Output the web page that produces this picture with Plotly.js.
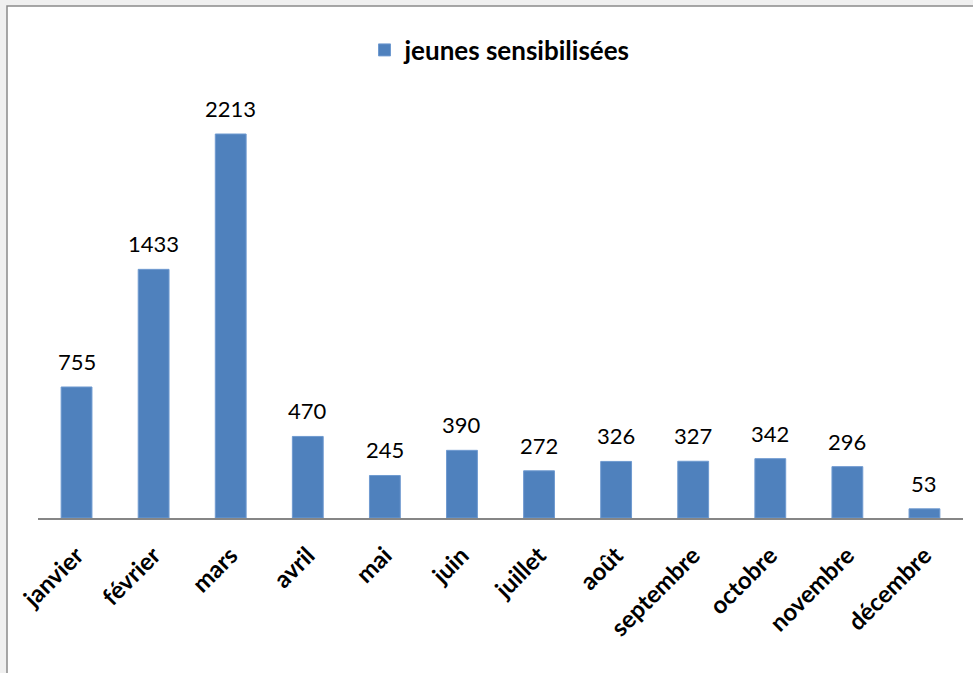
<!DOCTYPE html>
<html>
<head>
<meta charset="utf-8">
<script src="https://cdn.plot.ly/plotly-3.0.1.min.js"></script>
<style>html,body{margin:0;padding:0;background:#fff;}#chart{width:973px;height:673px;}</style>
</head>
<body>
<div id="chart"></div>
<script>
const months = ["janvier","février","mars","avril","mai","juin","juillet","août","septembre","octobre","novembre","décembre"];
const values = [755,1433,2213,470,245,390,272,326,327,342,296,53];
const seriesName = "jeunes sensibilisées";

const W = 973, H = 673;
const M = {l: 38, r: 10, t: 80, b: 155};
const plotW = W - M.l - M.r, plotH = H - M.t - M.b;
const px = v => (v - M.l) / plotW;
const py = v => (H - M.b - v) / plotH;

const trace = {
  type: "bar",
  x: months,
  y: values,
  name: seriesName,
  marker: {color: "#4F81BD", line: {color: "#6f9ad0", width: 1}},
  showlegend: true,
  hoverinfo: "x+y"
};

const annotations = months.map((m, i) => ({
  x: m, y: values[i], xref: "x", yref: "y",
  text: String(values[i]), showarrow: false,
  yanchor: "bottom", yshift: 10,
  font: {family: "Lato, 'Open Sans', sans-serif", size: 22, color: "#000"}
}));

const layout = {
  width: W, height: H,
  margin: M,
  paper_bgcolor: "#f0f0f0",
  plot_bgcolor: "rgba(0,0,0,0)",
  font: {family: "Lato, 'Open Sans', sans-serif", color: "#000"},
  showlegend: true,
  legend: {
    orientation: "h", x: px(500), xanchor: "center", y: py(50), yanchor: "middle",
    font: {family: "Lato, 'Open Sans', sans-serif", size: 26, weight: "bold", color: "#000"},
    bgcolor: "rgba(0,0,0,0)", itemwidth: 30
  },
  bargap: 0.6,
  xaxis: {
    type: "category",
    tickangle: -45,
    tickfont: {family: "Lato, 'Open Sans', sans-serif", size: 24, weight: "bold", color: "#000"},
    showline: true, linecolor: "#868686", linewidth: 2,
    ticks: "", showgrid: false, zeroline: false,
    ticklabelstandoff: 12
  },
  yaxis: {
    range: [0, plotH / (384 / 2213)],
    visible: false, showgrid: false, zeroline: false
  },
  annotations: annotations,
  shapes: [{
    type: "rect", xref: "paper", yref: "paper", layer: "below",
    x0: px(7), x1: px(990), y0: py(700), y1: py(6),
    fillcolor: "#ffffff", line: {color: "#8a8a8a", width: 1.5}
  }]
};

Plotly.newPlot("chart", [trace], layout, {displayModeBar: false, staticPlot: true});
</script>
</body>
</html>
